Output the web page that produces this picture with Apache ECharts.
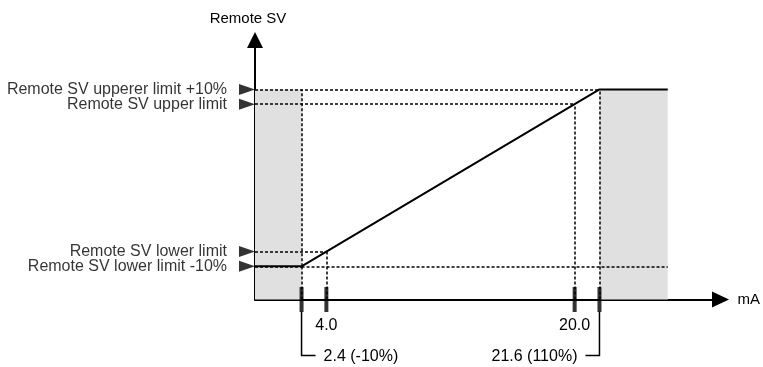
<!DOCTYPE html>
<html>
<head>
<meta charset="utf-8">
<script src="https://cdn.jsdelivr.net/npm/echarts@6/dist/echarts.min.js"></script>
<style>
  html, body { margin: 0; padding: 0; background: #fff; }
  #chart { width: 763px; height: 367px; }
</style>
</head>
<body>
<div id="chart"></div>
<script>
// key points of the remote SV curve (mA -> % of SV span)
const xKeys = [2.4, 4.0, 20.0, 21.6];
const yKeys = [-10, 0, 100, 110];
const xLabels = ['2.4 (-10%)', '4.0', '20.0', '21.6 (110%)'];
const yLabels = [
  'Remote SV lower limit -10%',
  'Remote SV lower limit',
  'Remote SV upper limit',
  'Remote SV upperer limit +10%'
];
// diagram extents
const xMin = -0.6, xMax = 29.4, xEnd = 26;
const yMin = -32.5, yMax = 143.5;

const curve = [[xMin, yKeys[0]], [xKeys[0], yKeys[0]], [xKeys[3], yKeys[3]], [xEnd, yKeys[3]]];

const font = '16px "Liberation Sans", Arial, sans-serif';

// dotted guide lines
const guides = [];
xKeys.forEach((x, i) => {
  guides.push([{ coord: [xMin, yKeys[i]] }, { coord: [x, yKeys[i]] }]);
  guides.push([{ coord: [x, yMin] }, { coord: [x, yKeys[i]] }]);
});
guides.push([{ coord: [xKeys[0], yKeys[0]] }, { coord: [xEnd, yKeys[0]] }]);
guides.push([{ coord: [xKeys[0], yKeys[0]] }, { coord: [xKeys[0], yKeys[3]] }]);

const chart = echarts.init(document.getElementById('chart'));
chart.setOption({
  animation: false,
  grid: { left: 255, top: 40, width: 466, height: 259.5 },
  xAxis: {
    type: 'value',
    min: xMin,
    max: xMax,
    name: 'mA',
    nameLocation: 'end',
    nameGap: 17,
    nameTextStyle: { color: '#000', fontSize: 15, fontFamily: 'Liberation Sans' },
    axisLine: {
      onZero: false,
      symbol: ['none', 'triangle'],
      symbolSize: [16, 17],
      lineStyle: { color: '#000', width: 2 }
    },
    axisTick: { show: false },
    axisLabel: { show: false },
    splitLine: { show: false }
  },
  yAxis: {
    type: 'value',
    min: yMin,
    max: yMax,
    name: 'Remote SV',
    nameLocation: 'end',
    nameGap: 14,
    nameTextStyle: { color: '#000', fontSize: 15, fontFamily: 'Liberation Sans', padding: [0, 14, 0, 0] },
    axisLine: {
      onZero: false,
      symbol: ['none', 'triangle'],
      symbolSize: [16, 16],
      lineStyle: { color: '#000', width: 2 }
    },
    axisTick: { show: false },
    axisLabel: { show: false },
    splitLine: { show: false }
  },
  series: [
    {
      type: 'line',
      data: curve,
      symbol: 'none',
      z: 5,
      lineStyle: { color: '#000', width: 2 },
      markArea: {
        silent: true,
        itemStyle: { color: '#e0e0e0' },
        data: [
          [{ coord: [xMin, yMin] }, { coord: [xKeys[0], yKeys[3]] }],
          [{ coord: [xKeys[3], yMin] }, { coord: [xEnd, yKeys[3]] }]
        ]
      },
      markLine: {
        silent: true,
        symbol: 'none',
        label: { show: false },
        lineStyle: { color: '#000', width: 1.5, type: [3, 2] },
        data: guides
      }
    },
    {
      // ticks on the mA axis
      type: 'scatter',
      data: xKeys.map(x => [x, yMin]),
      symbol: 'rect',
      symbolSize: [4, 25],
      clip: false,
      z: 6,
      itemStyle: { color: '#000' }
    },
    {
      // markers and labels on the SV axis
      type: 'scatter',
      data: yKeys.map(y => [xMin, y]),
      symbol: 'triangle',
      symbolSize: [11, 16],
      symbolRotate: -90,
      symbolOffset: [-8, 0],
      clip: false,
      z: 6,
      itemStyle: { color: '#000' },
      label: {
        show: true,
        position: 'left',
        distance: 12,
        color: '#000',
        fontSize: 16,
        fontFamily: 'Liberation Sans',
        formatter: p => yLabels[p.dataIndex]
      },
      labelLayout: { hideOverlap: false }
    },
    {
      // mA labels, limit values get a bracket
      type: 'custom',
      data: xKeys.map((x, i) => [x, i]),
      z: 6,
      renderItem(params, api) {
        const i = api.value(1);
        const p = api.coord([api.value(0), yMin]);
        const text = xLabels[i];
        if (text.indexOf('(') < 0) {
          return {
            type: 'text',
            style: { text, x: p[0], y: p[1] + 26, align: 'center', verticalAlign: 'middle', font, fill: '#000' }
          };
        }
        const dir = i < 2 ? 1 : -1;
        const yb = p[1] + 56;
        return {
          type: 'group',
          children: [
            {
              type: 'polyline',
              shape: { points: [[p[0], p[1] + 12], [p[0], yb], [p[0] + dir * 14, yb]] },
              style: { stroke: '#000', lineWidth: 1.5, fill: null }
            },
            {
              type: 'text',
              style: {
                text, x: p[0] + dir * 22, y: yb + 1,
                align: dir > 0 ? 'left' : 'right', verticalAlign: 'middle', font, fill: '#000'
              }
            }
          ]
        };
      }
    }
  ]
});
</script>
</body>
</html>
